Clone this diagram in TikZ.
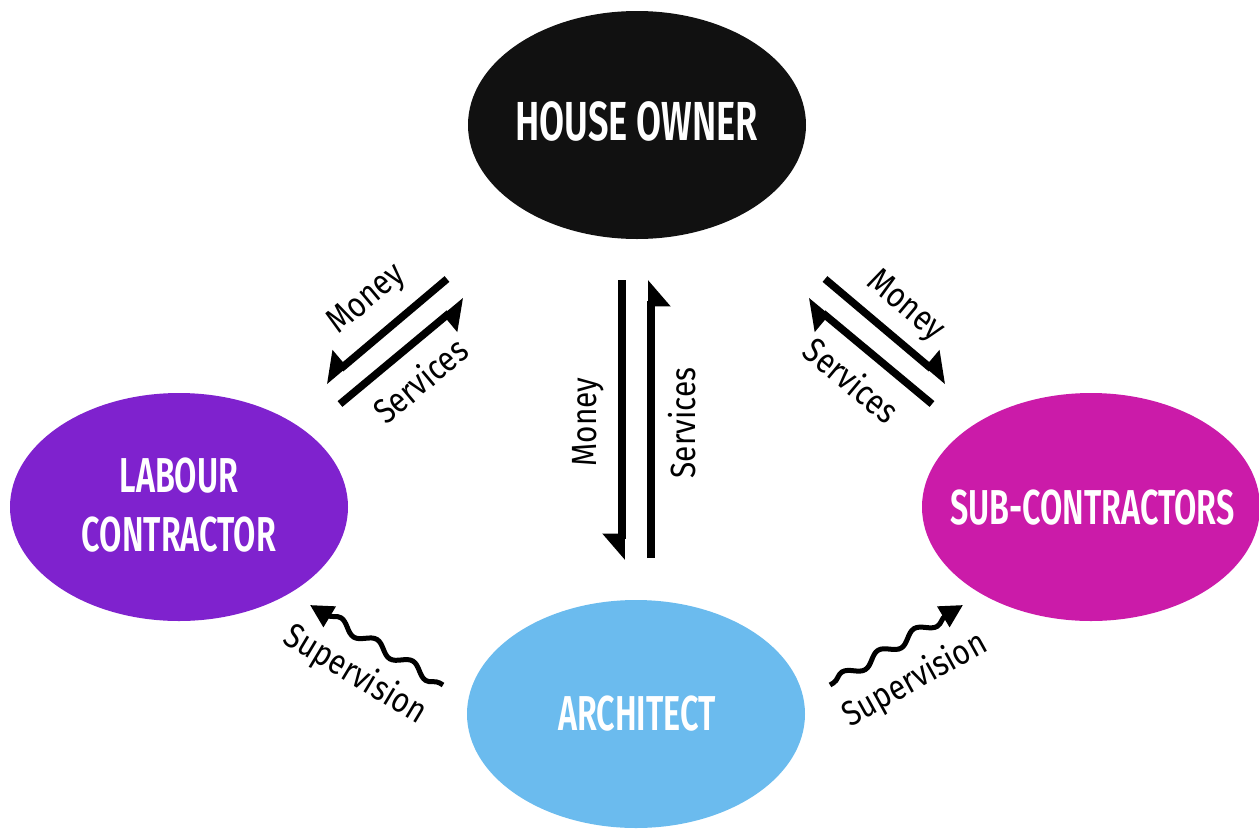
\documentclass[tikz,border=0pt]{standalone}
\usepackage{fontspec}
\usetikzlibrary{shapes.geometric,arrows.meta,decorations.pathmorphing}
\newfontfamily\titlefont{Fira Sans}[FakeStretch=0.66,UprightFont={* SemiBold},BoldFont={* SemiBold}]
\newfontfamily\labelfont{Fira Sans}[FakeStretch=0.85]
\definecolor{ownerblack}{HTML}{111111}
\definecolor{labourpurple}{HTML}{7F22CE}
\definecolor{submagenta}{HTML}{CB1BA9}
\definecolor{archblue}{HTML}{6BBBEE}
\begin{document}
\begin{tikzpicture}[x=1pt,y=-1pt,
  blob/.style={ellipse, minimum width=338pt, minimum height=228pt, inner sep=0pt, draw=none},
  title/.style={text=white, font=\titlefont\fontsize{49}{59}\selectfont, align=center, inner sep=0pt},
  bigtitle/.style={title, font=\titlefont\fontsize{55}{59}\selectfont},
  lab/.style={font=\labelfont\fontsize{35}{40}\selectfont, inner sep=0pt},
  flow/.style={line width=7.5pt},
  harpR/.style={flow, -{Triangle[right,length=23pt,width=38pt]}},
  harpL/.style={flow, -{Triangle[left,length=23pt,width=38pt]}},
  wave/.style={line width=5pt, decorate, decoration={snake, amplitude=5pt, segment length=42pt, pre length=4pt, post length=14pt},
    -{Triangle[length=23pt,width=23pt]}}
]
\fill[white] (0,0) rectangle (1259,828);
\useasboundingbox (0,0) rectangle (1259,828);

% ellipses
\node[blob, fill=ownerblack] (owner) at (637,125) {};
\node[blob, fill=labourpurple] (labour) at (179,507) {};
\node[blob, fill=submagenta] (sub) at (1091,507) {};
\node[blob, fill=archblue] (arch) at (636,714) {};

\node[bigtitle] (ownerT) at (636.5,121.5) {HOUSE OWNER};
\node[title] (labourT) at (179,505) {LABOUR\\CONTRACTOR};
\node[title] (subT) at (1092.5,507.5) {SUB-CONTRACTORS};
\node[title] (archT) at (637,713.5) {ARCHITECT};

% coordinates of free arrow ends
\coordinate (lmA) at (447,279);
\coordinate (lmB) at (325,382);
\coordinate (lsA) at (340,404);
\coordinate (lsB) at (465,300);
\coordinate (rmA) at (825,279);
\coordinate (rmB) at (947,382);
\coordinate (rsA) at (932,404);
\coordinate (rsB) at (807,300);
\coordinate (vmA) at (622,280);
\coordinate (vmB) at (622,560);
\coordinate (vsA) at (651,558);
\coordinate (vsB) at (651,280);
\coordinate (lwA) at (443,685);
\coordinate (lwB) at (310,605);
\coordinate (rwA) at (830,685);
\coordinate (rwB) at (963,605);

% money / services
\draw[harpR] (lmA) -- (lmB);
\draw[harpR] (lsA) -- (lsB);
\draw[harpL] (rmA) -- (rmB);
\draw[harpL] (rsA) -- (rsB);
\draw[harpR] (vmA) -- (vmB);
\draw[harpR] (vsA) -- (vsB);

% supervision
\draw[wave] (lwA) -- (lwB);
\draw[wave] (rwA) -- (rwB);

% labels
\node[lab, rotate=40] (lmL) at (367,300) {Money};
\node[lab, rotate=40] (lsL) at (420,380) {Services};
\node[lab, rotate=-40] (rmL) at (905,307) {Money};
\node[lab, rotate=-40] (rsL) at (852,380) {Services};
\node[lab, rotate=90] (vmL) at (588,422) {Money};
\node[lab, rotate=90] (vsL) at (682,423) {Services};
\node[lab, rotate=-31] (lwL) at (355,675) {Supervision};
\node[lab, rotate=29] (rwL) at (915,680) {Supervision};
\end{tikzpicture}
\end{document}
